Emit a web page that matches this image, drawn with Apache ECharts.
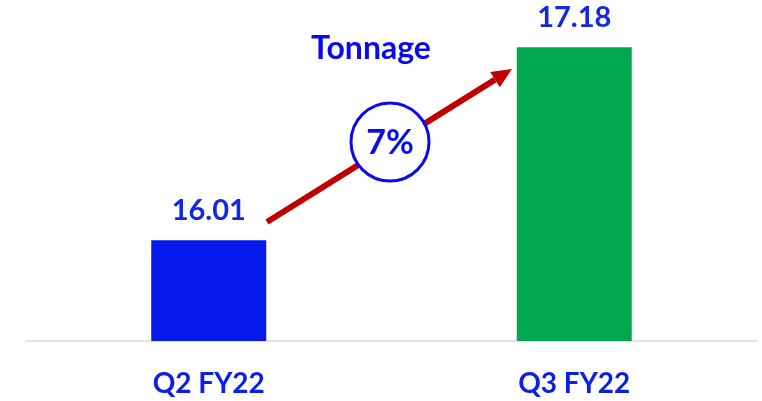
<!DOCTYPE html>
<html>
<head>
<meta charset="utf-8">
<script src="https://cdn.jsdelivr.net/npm/echarts@6/dist/echarts.min.js"></script>
<style>
  html, body { margin: 0; padding: 0; background: #fff; }
  #main { width: 762px; height: 401px; }
</style>
</head>
<body>
<div id="main"></div>
<script>
// data
const categories = ['Q2 FY22', 'Q3 FY22'];
const tonnage = [16.01, 17.18];
const barColors = ['#0519ea', '#00a84f'];
const growthText = '7%';

const chart = echarts.init(document.getElementById('main'));

// arrow from Q2 towards Q3 (annotation)
const start = [267, 222];
const tip = [512, 69];
const dx = tip[0] - start[0], dy = tip[1] - start[1];
const len = Math.sqrt(dx * dx + dy * dy);
const ux = dx / len, uy = dy / len;
const headLen = 20, headHalf = 9;
const base = [tip[0] - ux * headLen, tip[1] - uy * headLen];
const head = [
  tip,
  [base[0] - uy * headHalf, base[1] + ux * headHalf],
  [base[0] + uy * headHalf, base[1] - ux * headHalf]
];

const option = {
  animation: false,
  grid: { left: 26, right: 5, top: 11, bottom: 60 },
  xAxis: {
    type: 'category',
    data: categories,
    axisLine: { lineStyle: { color: '#d9d9d9', width: 1.5 } },
    axisTick: { show: false },
    axisLabel: {
      margin: 29,
      color: '#0a1ee8',
      fontFamily: 'Lato',
      fontWeight: 'bold',
      fontSize: 28
    }
  },
  yAxis: {
    type: 'value',
    min: 15.4,
    max: 17.4,
    show: false,
    splitLine: { show: false }
  },
  series: [{
    type: 'bar',
    barWidth: 115,
    data: tonnage.map((v, i) => ({ value: v, itemStyle: { color: barColors[i] } })),
    label: {
      show: true,
      position: 'top',
      distance: 15,
      color: '#1228e6',
      fontFamily: 'Lato',
      fontWeight: 'bold',
      fontSize: 29,
      formatter: p => p.value.toFixed(2)
    }
  }],
  graphic: [
    {
      type: 'text',
      x: 371, y: 49,
      style: {
        text: 'Tonnage', fill: '#0a0af0', font: 'bold 32px Lato',
        align: 'center', verticalAlign: 'middle'
      }
    },
    {
      type: 'line',
      shape: { x1: start[0], y1: start[1], x2: base[0], y2: base[1] },
      style: { stroke: '#c00000', lineWidth: 6 }
    },
    {
      type: 'polygon',
      shape: { points: head },
      style: { fill: '#c00000' }
    },
    {
      type: 'circle',
      shape: { cx: 390, cy: 142, r: 39 },
      style: { fill: '#fff', stroke: '#0a0af0', lineWidth: 3 }
    },
    {
      type: 'text',
      x: 390, y: 143,
      style: {
        text: growthText, fill: '#0a0af0', font: 'bold 34px Lato',
        align: 'center', verticalAlign: 'middle'
      }
    }
  ]
};

chart.setOption(option);
</script>
</body>
</html>
